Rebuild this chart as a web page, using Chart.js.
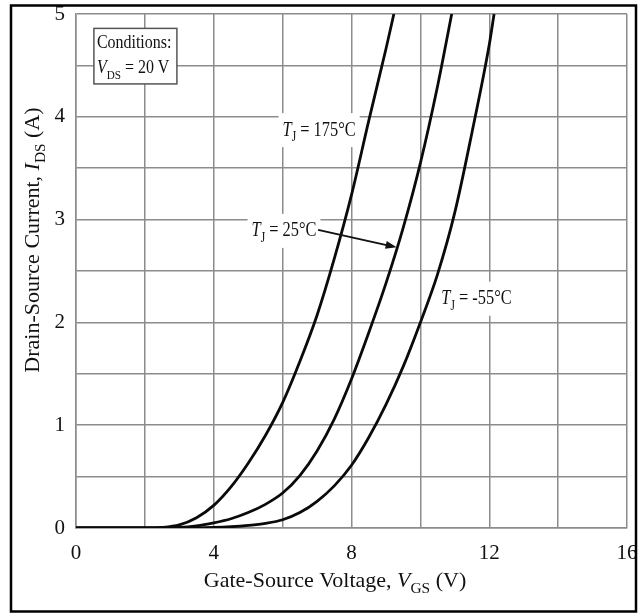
<!DOCTYPE html>
<html>
<head>
<meta charset="utf-8">
<script src="https://cdn.jsdelivr.net/npm/chart.js@4"></script>
<style>
  html, body { margin: 0; padding: 0; background: #fff; }
  #wrap { width: 641px; height: 614px; position: relative; }
</style>
</head>
<body>
<div id="wrap"><canvas id="chart"></canvas></div>
<script>
// Transfer characteristics, V_DS = 20 V
const vgs175 = [0, 1, 2, 2.5, 3, 3.5, 4, 4.5, 5, 5.5, 6, 6.5, 7, 7.5, 8, 8.5, 9, 9.23];
const ids175 = [0, 0, 0, 0.005, 0.03, 0.1, 0.22, 0.4, 0.63, 0.9, 1.22, 1.62, 2.07, 2.62, 3.24, 3.96, 4.66, 5];

const vgs25 = [0, 1, 2, 3, 3.5, 4, 4.5, 5, 5.5, 6, 6.5, 7, 7.5, 8, 8.5, 9, 9.5, 10, 10.5, 10.91];
const ids25 = [0, 0, 0, 0.005, 0.02, 0.05, 0.09, 0.15, 0.23, 0.34, 0.51, 0.75, 1.06, 1.45, 1.9, 2.38, 2.92, 3.55, 4.3, 5];

const vgsM55 = [0, 1, 2, 3, 4, 4.5, 5, 5.5, 6, 6.5, 7, 7.5, 8, 8.5, 9, 9.5, 10, 10.5, 11, 11.5, 12, 12.14];
const idsM55 = [0, 0, 0, 0, 0.005, 0.012, 0.025, 0.045, 0.08, 0.15, 0.26, 0.41, 0.61, 0.88, 1.2, 1.57, 2.0, 2.47, 3.07, 3.85, 4.7, 5];

const xTicks = [0, 4, 8, 12, 16];
const yTicks = [0, 1, 2, 3, 4, 5];

const FONT = '"Liberation Serif", "Times New Roman", serif';
const GRID = '#8c8c8c';

function pts(xs, ys) {
  return xs.map((x, i) => ({ x: x, y: ys[i] }));
}

function fontFor(p, size) {
  return (p.i ? 'italic ' : '') + (p.sub ? size * 0.7 : size).toFixed(1) + 'px ' + FONT;
}

function richWidth(ctx, parts, size) {
  let w = 0;
  parts.forEach(p => { ctx.font = fontFor(p, size); w += ctx.measureText(p.t).width; });
  return w;
}

// draws text pieces, italic / subscript, starting at x on baseline y
function drawRich(ctx, parts, x, y, size) {
  let cx = x;
  parts.forEach(p => {
    ctx.font = fontFor(p, size);
    ctx.fillText(p.t, cx, y + (p.sub ? size * 0.28 : 0));
    cx += ctx.measureText(p.t).width;
  });
}

// a label centred on (px, py) with a white box behind it
function label(ctx, parts, px, py, size, squeeze) {
  const w = richWidth(ctx, parts, size) * squeeze;
  ctx.fillStyle = '#fff';
  ctx.fillRect(px - w / 2 - 4, py - 16, w + 8, 34);
  ctx.save();
  ctx.translate(px - w / 2, py + size * 0.33);
  ctx.scale(squeeze, 1);
  ctx.fillStyle = '#111';
  drawRich(ctx, parts, 0, 0, size);
  ctx.restore();
}

const notes = {
  id: 'notes',
  beforeDatasetsDraw(chart) {
    const ctx = chart.ctx, x = chart.scales.x, y = chart.scales.y;
    ctx.save();
    ctx.textBaseline = 'alphabetic';

    // conditions box
    const bx0 = x.getPixelForValue(0.52), bx1 = x.getPixelForValue(2.93);
    const by0 = y.getPixelForValue(4.86), by1 = y.getPixelForValue(4.32);
    ctx.fillStyle = '#fff';
    ctx.fillRect(bx0, by0, bx1 - bx0, by1 - by0);
    ctx.strokeStyle = '#555';
    ctx.lineWidth = 1.5;
    ctx.strokeRect(bx0, by0, bx1 - bx0, by1 - by0);
    ctx.fillStyle = '#111';
    ctx.save();
    ctx.translate(bx0 + 3, by0 + 20);
    ctx.scale(0.84, 1);
    drawRich(ctx, [{ t: 'Conditions:' }], 0, 0, 19);
    drawRich(ctx, [{ t: 'V', i: true }, { t: 'DS', sub: true }, { t: ' = 20 V' }], 0, 25, 19);
    ctx.restore();

    label(ctx, [{ t: 'T', i: true }, { t: 'J', sub: true }, { t: ' = 175°C' }],
      x.getPixelForValue(7.06), y.getPixelForValue(3.88), 20, 0.82);
    label(ctx, [{ t: 'T', i: true }, { t: 'J', sub: true }, { t: ' = 25°C' }],
      x.getPixelForValue(6.04), y.getPixelForValue(2.9), 20, 0.82);
    label(ctx, [{ t: 'T', i: true }, { t: 'J', sub: true }, { t: ' = -55°C' }],
      x.getPixelForValue(11.63), y.getPixelForValue(2.24), 20, 0.82);
    ctx.restore();
  },
  afterDatasetsDraw(chart) {
    const ctx = chart.ctx, x = chart.scales.x, y = chart.scales.y;
    // arrow to the 25°C curve
    const x0 = x.getPixelForValue(7.03), y0 = y.getPixelForValue(2.9);
    const x1 = x.getPixelForValue(9.31), y1 = y.getPixelForValue(2.73);
    const a = Math.atan2(y1 - y0, x1 - x0);
    ctx.save();
    ctx.strokeStyle = '#111';
    ctx.fillStyle = '#111';
    ctx.lineWidth = 2;
    ctx.beginPath();
    ctx.moveTo(x0, y0);
    ctx.lineTo(x1 - 8 * Math.cos(a), y1 - 8 * Math.sin(a));
    ctx.stroke();
    ctx.beginPath();
    ctx.moveTo(x1, y1);
    ctx.lineTo(x1 - 11 * Math.cos(a) + 4 * Math.sin(a), y1 - 11 * Math.sin(a) - 4 * Math.cos(a));
    ctx.lineTo(x1 - 11 * Math.cos(a) - 4 * Math.sin(a), y1 - 11 * Math.sin(a) + 4 * Math.cos(a));
    ctx.closePath();
    ctx.fill();
    ctx.restore();
  },
  afterDraw(chart) {
    const ctx = chart.ctx;
    ctx.save();
    ctx.fillStyle = '#111';
    ctx.textBaseline = 'alphabetic';

    // x axis title
    const xt = [{ t: 'Gate-Source Voltage, ' }, { t: 'V', i: true }, { t: 'GS', sub: true }, { t: ' (V)' }];
    const xw = richWidth(ctx, xt, 22);
    drawRich(ctx, xt, 335 - xw / 2, 587, 22);

    // y axis title
    const yt = [{ t: 'Drain-Source Current, ' }, { t: 'I', i: true }, { t: 'DS', sub: true }, { t: ' (A)' }];
    const yw = richWidth(ctx, yt, 22);
    ctx.save();
    ctx.translate(39, 240);
    ctx.rotate(-Math.PI / 2);
    drawRich(ctx, yt, -yw / 2, 0, 22);
    ctx.restore();

    // outer frame
    ctx.strokeStyle = '#000';
    ctx.lineWidth = 2.5;
    ctx.strokeRect(11, 5.5, 625, 606);
    ctx.restore();
  }
};

const curve = (data) => ({
  data: data,
  borderColor: '#0a0a0a',
  borderWidth: 2.8,
  pointRadius: 0,
  cubicInterpolationMode: 'monotone',
  fill: false
});

new Chart(document.getElementById('chart'), {
  type: 'line',
  data: {
    datasets: [
      curve(pts(vgs175, ids175)),
      curve(pts(vgs25, ids25)),
      curve(pts(vgsM55, idsM55))
    ]
  },
  options: {
    responsive: true,
    maintainAspectRatio: false,
    animation: false,
    devicePixelRatio: 1,
    layout: { padding: { top: 14, right: 14, left: 0, bottom: 0 } },
    plugins: { legend: { display: false }, tooltip: { enabled: false } },
    scales: {
      x: {
        type: 'linear',
        min: 0,
        max: 16,
        afterFit(s) {
          s.height = 86;
          s.paddingLeft = 0;
          s.paddingRight = 0;
        },
        grid: { color: GRID, lineWidth: 1.5, drawTicks: false },
        border: { color: GRID, width: 1.5 },
        ticks: {
          stepSize: 2,
          padding: 13,
          maxRotation: 0,
          autoSkip: false,
          color: '#111',
          font: { family: FONT, size: 21 },
          callback: v => xTicks.includes(v) ? String(v) : ''
        }
      },
      y: {
        type: 'linear',
        min: 0,
        max: 5,
        afterFit(s) {
          s.width = 76;
          s.paddingTop = 0;
          s.paddingBottom = 0;
        },
        grid: { color: GRID, lineWidth: 1.5, drawTicks: false },
        border: { color: GRID, width: 1.5 },
        ticks: {
          stepSize: 0.5,
          padding: 11,
          autoSkip: false,
          color: '#111',
          font: { family: FONT, size: 21 },
          callback: v => yTicks.includes(v) ? String(v) : ''
        }
      }
    }
  },
  plugins: [notes]
});
</script>
</body>
</html>
